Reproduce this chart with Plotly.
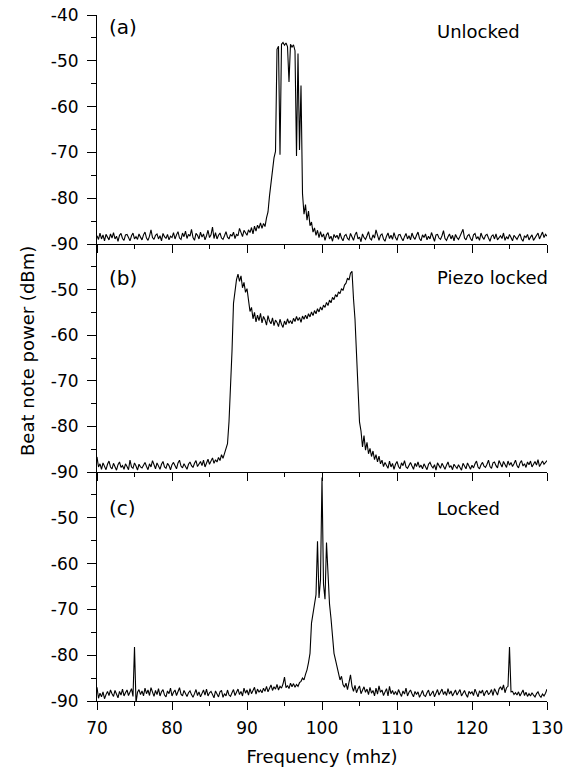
import plotly.graph_objects as go

# frequency grid (MHz), 0.2 MHz steps from 70 to 130
freq = [round(70 + 0.2 * i, 1) for i in range(301)]

unlocked = [
    -88.2, -89.0, -87.6, -88.9, -88.0, -89.3, -87.9, -88.6, -89.1, -87.8,
    -88.7, -87.5, -88.9, -88.3, -89.4, -88.1, -87.7, -88.8, -89.2, -88.0,
    -87.9, -88.6, -89.3, -88.2, -87.6, -88.9, -88.4, -89.0, -87.8, -88.5,
    -89.1, -88.0, -87.4, -88.7, -89.2, -88.3, -86.9, -88.6, -89.0, -88.1,
    -87.8, -88.9, -88.2, -89.3, -87.7, -88.4, -88.8, -87.9, -89.1, -88.3,
    -88.6, -87.5, -88.9, -88.0, -87.3, -88.7, -89.0, -87.6, -88.4, -87.2,
    -88.8, -87.9, -88.3, -86.8, -88.6, -89.2, -87.7, -88.1, -88.9, -87.4,
    -88.5, -87.8, -89.1, -88.2, -87.0, -88.6, -88.0, -86.3, -88.8, -87.5,
    -88.9, -88.1, -87.6, -88.7, -89.0, -88.2, -87.3, -88.5, -88.9, -87.9,
    -88.3, -87.4, -88.8, -87.9, -88.2, -86.6, -87.8, -88.4, -87.0, -87.6,
    -88.1, -86.9, -87.5, -86.4, -87.8, -86.1, -87.2, -85.9, -86.6, -85.4,
    -86.6, -85.5, -86.2, -84.3, -83.0, -79.5, -76.5, -73.0, -71.2, -69.8,
    -47.5, -46.8, -70.5, -46.4, -46.0, -46.6, -46.1, -46.9, -54.6, -46.4,
    -47.0, -46.5, -47.8, -70.8, -48.4, -69.5, -55.4, -79.0, -83.5, -81.4,
    -84.8, -82.8, -86.0, -85.2, -87.4, -86.5, -88.1, -87.0, -88.6, -87.3,
    -88.5, -87.8, -89.2, -88.0, -87.5, -88.9, -88.3, -89.4, -87.9, -88.6,
    -88.1, -89.0, -87.6, -88.7, -89.3, -88.2, -87.9, -88.8, -89.1, -87.7,
    -88.4, -89.2, -88.0, -87.4, -88.9, -88.5, -89.5, -87.8, -88.6, -89.0,
    -88.2, -87.3, -88.8, -89.1, -88.0, -88.7, -86.9, -88.4, -89.2, -88.1,
    -87.8, -88.9, -89.4, -88.3, -87.6, -88.8, -88.1, -89.0, -87.5, -88.6,
    -89.2, -88.0, -87.9, -88.7, -89.3, -88.4, -87.7, -88.9, -88.2, -89.1,
    -87.6, -88.5, -89.0, -88.1, -87.4, -88.8, -89.3, -88.0, -88.6, -87.8,
    -89.1, -88.3, -88.9, -87.5, -88.6, -89.4, -88.0, -87.9, -88.7, -89.0,
    -88.2, -87.1, -88.8, -89.2, -88.4, -87.8, -88.9, -88.1, -89.3, -87.9,
    -88.6, -89.0, -88.3, -87.5, -86.8, -88.7, -89.1, -88.2, -87.9, -88.8,
    -89.3, -88.0, -87.7, -88.9, -88.4, -89.2, -87.6, -88.5, -89.0, -88.1,
    -87.9, -88.7, -89.4, -88.3, -88.0, -88.9, -87.8, -89.1, -88.5, -88.2,
    -88.8, -87.6, -89.2, -88.4, -88.9, -87.9, -88.6, -89.3, -88.1, -88.7,
    -89.0, -88.3, -87.8, -88.9, -89.4, -88.2, -88.6, -87.9, -89.1, -88.5,
    -88.0, -89.2, -88.7, -88.3, -87.6, -88.9, -88.1, -87.4, -88.6, -87.9,
    -88.3,
]

piezo_locked = [
    -86.7, -88.9, -88.2, -89.4, -88.0, -88.8, -89.5, -88.3, -87.6, -88.9,
    -89.3, -88.1, -88.7, -89.6, -88.4, -87.8, -89.0, -88.6, -89.4, -88.2,
    -88.8, -89.5, -87.4, -88.9, -89.2, -88.0, -88.7, -89.6, -88.3, -88.9,
    -89.1, -88.4, -87.9, -88.8, -89.5, -88.2, -88.9, -87.5, -88.6, -89.3,
    -88.0, -88.7, -89.4, -88.3, -87.7, -88.9, -89.2, -88.1, -88.6, -89.5,
    -88.4, -87.9, -88.8, -89.3, -88.0, -87.4, -88.7, -89.1, -88.2, -88.9,
    -89.4, -88.3, -87.8, -88.6, -89.0, -88.1, -87.5, -88.8, -88.2, -87.7,
    -88.6, -87.4, -88.9, -88.0, -87.2, -88.3, -87.6, -86.9, -88.1, -87.3,
    -87.8, -86.8, -87.5, -86.2, -87.0, -85.8, -84.6, -83.8, -79.0, -72.5,
    -63.5, -53.0, -50.0, -47.8, -46.6, -48.2, -47.0, -49.6, -48.4, -50.6,
    -49.8, -52.5, -54.8, -53.9, -56.4, -55.0, -57.1, -55.6, -56.8, -55.2,
    -57.3, -55.9, -56.6, -57.8, -55.7, -56.9, -57.5, -56.2, -57.9, -56.7,
    -57.2, -58.1, -56.5, -57.6, -58.3, -56.9, -57.7, -56.4, -57.4, -56.8,
    -57.5, -56.3, -57.0, -55.9, -56.8, -56.1, -57.2, -55.8, -56.5, -55.6,
    -56.4, -55.3, -56.0, -54.9, -55.7, -54.6, -55.3, -54.2, -54.9, -53.8,
    -54.5, -53.4, -53.9, -52.8, -53.5, -52.3, -52.9, -51.7, -52.2, -51.1,
    -51.6, -50.5, -50.9, -49.8, -50.2, -49.0, -48.6, -47.5, -47.9, -46.4,
    -46.0, -52.0, -56.5, -64.0, -72.5, -79.0, -81.0, -84.5, -82.0, -85.2,
    -83.5, -86.0, -84.8, -86.6, -85.4, -87.3, -86.2, -87.8, -86.5, -88.2,
    -87.4, -88.8, -87.9, -88.5, -89.2, -87.6, -88.9, -88.1, -89.4, -88.3,
    -87.7, -88.8, -89.3, -88.0, -88.6, -87.5, -88.9, -89.2, -88.4, -87.9,
    -88.7, -89.4, -88.1, -88.8, -87.8, -89.0, -88.5, -89.3, -88.2, -88.9,
    -89.5, -88.3, -87.9, -88.7, -89.1, -88.4, -89.6, -88.0, -88.8, -89.2,
    -88.1, -88.9, -89.4, -88.5, -87.8, -89.0, -88.6, -89.5, -88.3, -88.8,
    -89.2, -88.4, -88.9, -89.6, -88.1, -88.7, -89.3, -88.0, -88.8, -89.4,
    -88.5, -89.1, -88.2, -87.6, -88.9, -89.3, -88.4, -87.9, -88.7, -89.0,
    -88.3, -87.4, -88.8, -89.2, -88.0, -87.8, -88.6, -89.1, -87.5, -88.4,
    -88.9, -87.7, -88.3, -89.0, -87.6, -88.5, -87.9, -88.8, -88.2, -87.4,
    -88.6, -89.1, -88.0, -87.5, -88.7, -88.2, -89.0, -87.8, -88.4, -87.6,
    -88.9, -88.1, -87.7, -88.5, -87.3, -88.8, -88.0, -87.6, -88.3, -87.9,
    -87.5,
]

locked = [
    -87.0, -89.4, -88.3, -89.1, -88.0, -89.5, -88.6, -87.9, -88.8, -87.6,
    -88.4, -89.0, -87.7, -88.5, -89.3, -87.9, -88.7, -87.4, -88.9, -88.2,
    -87.6, -88.8, -88.1, -87.3, -89.0, -78.2, -90.4, -88.1, -87.5, -88.6,
    -87.8, -88.9, -87.2, -88.4, -87.6, -88.8, -87.1, -88.3, -89.0, -87.7,
    -88.6, -87.3, -88.9, -88.0, -87.5, -88.7, -89.1, -87.8, -88.4, -87.2,
    -88.9, -88.1, -87.6, -88.8, -87.9, -87.1, -88.5, -88.9, -87.7, -88.3,
    -89.0, -88.2, -87.8, -88.6, -89.2, -88.4, -87.5, -88.8, -88.0, -89.1,
    -88.3, -87.6, -88.7, -87.4, -88.9, -88.2, -87.9, -88.6, -89.3, -87.8,
    -88.5, -89.1, -88.0, -87.7, -89.2, -88.4, -88.9, -87.6, -88.7, -89.0,
    -88.2, -87.5, -88.8, -88.1, -87.4, -88.6, -87.9, -88.9, -87.2, -88.3,
    -87.6, -88.7, -87.3, -88.4, -87.8, -87.0, -88.5, -87.4, -88.1, -87.6,
    -88.2, -87.2, -87.9, -86.8, -88.0, -87.3, -86.5, -87.7, -86.9, -87.4,
    -86.4, -87.6, -86.8, -87.2, -86.3, -84.8, -87.1, -86.6, -87.3, -86.1,
    -86.9, -86.2, -87.0, -86.4, -86.8, -86.0, -85.7, -85.0, -85.4, -84.2,
    -83.2, -81.6, -79.6, -73.0, -70.8, -69.0, -66.8, -55.1, -67.5, -63.5,
    -41.2, -64.5, -67.8, -55.4, -64.0, -68.8, -72.0, -76.8, -79.6, -81.0,
    -82.5, -83.8, -85.4, -84.6, -86.4, -87.0, -86.1, -87.5, -86.0, -84.3,
    -86.8, -87.9, -86.6, -88.2, -87.3, -86.7, -88.4, -87.5, -86.9, -88.1,
    -87.4, -88.6, -87.0, -88.3, -87.7, -88.9, -87.2, -88.5, -86.7, -88.1,
    -87.6, -88.8, -88.2, -87.3, -88.9, -86.8, -88.4, -87.7, -88.6, -87.9,
    -88.7, -87.5, -88.3, -89.0, -87.8, -88.5, -87.2, -88.9, -88.1, -87.6,
    -88.4, -89.1, -87.9, -88.6, -88.0, -89.2, -88.5, -87.7, -88.8, -89.0,
    -88.2, -87.6, -88.9, -88.4, -87.8, -89.1, -88.3, -87.5, -88.7, -88.0,
    -87.4, -88.6, -87.9, -88.8, -87.3, -88.5, -87.8, -88.9, -88.2, -87.6,
    -88.7, -88.1, -87.5, -88.9, -88.3, -87.7, -88.6, -89.2, -87.9, -88.4,
    -88.0, -88.8, -87.4, -88.5, -89.1, -87.8, -88.3, -87.6, -88.9, -88.1,
    -87.7, -88.6, -88.2, -87.5, -88.8, -87.3, -88.0, -88.7, -87.4, -86.9,
    -87.6, -86.5, -88.2, -87.1, -86.8, -78.2, -88.0, -87.9, -88.6, -88.2,
    -88.7, -88.0, -88.9, -88.3, -87.6, -88.8, -88.1, -89.0, -88.4, -88.9,
    -88.2, -88.7, -89.1, -88.4, -88.0, -88.8, -89.2, -88.5, -88.9, -88.3,
    -87.4,
]

panel_labels = ["(a)", "(b)", "(c)"]
state_labels = ["Unlocked", "Piezo locked", "Locked"]
x_ticks = [70, 80, 90, 100, 110, 120, 130]
y_ticks_top = [-90, -80, -70, -60, -50, -40]
y_ticks = [-90, -80, -70, -60, -50]

FONT = "DejaVu Sans"
W, H = 569, 767
# plot area in page pixels: left 97, right 547, top 15, bottom 701
PL, PR, PT, PB = 97, 547, 15, 701
ML, MR, MT, MB = PL, W - PR, PT, H - PB
plot_h = PB - PT
plot_w = PR - PL

# panel pixel bounds (top, bottom)
bounds = [(15, 244), (244, 472), (472, 701)]
def dom(top, bot):
    return [(PB - bot) / plot_h, (PB - top) / plot_h]

def py(page_y):
    return (PB - page_y) / plot_h

def px(page_x):
    return (page_x - PL) / plot_w

fig = go.Figure()
series = [unlocked, piezo_locked, locked]
for k, ys in enumerate(series):
    n = "" if k == 0 else str(k + 1)
    fig.add_trace(go.Scatter(x=freq, y=ys, mode="lines",
                             line=dict(color="black", width=1.1),
                             xaxis="x" + n, yaxis="y" + n,
                             showlegend=False, hoverinfo="skip"))

axis_common = dict(showline=True, linecolor="black", linewidth=1,
                   showgrid=False, zeroline=False, ticks="outside",
                   tickcolor="black", tickwidth=1, mirror=False,
                   ticklabeloverflow="allow", automargin=False)

layout = dict(width=W, height=H, margin=dict(l=ML, r=MR, t=MT, b=MB, pad=0,
                                             autoexpand=False),
              paper_bgcolor="white", plot_bgcolor="white",
              font=dict(family=FONT, size=17, color="black"),
              showlegend=False)

for k in range(3):
    n = "" if k == 0 else str(k + 1)
    top, bot = bounds[k]
    yt = y_ticks_top if k == 0 else y_ticks
    layout["yaxis" + n] = dict(
        axis_common, domain=dom(top, bot), range=[-90, -40],
        tickmode="array", tickvals=yt, ticktext=[str(v) for v in yt],
        ticklen=9, anchor="x" + n, ticklabelstandoff=5,
        minor=dict(ticks="outside", ticklen=5, tickmode="linear",
                   tick0=-90, dtick=5, tickcolor="black", tickwidth=1),
        tickfont=dict(family=FONT, size=17))
    xa = dict(axis_common, range=[70, 130], tickmode="array",
              tickvals=x_ticks, ticklen=8, anchor="y" + n,
              minor=dict(ticks="outside", ticklen=4, tickmode="linear",
                         tick0=70, dtick=5, tickcolor="black", tickwidth=1),
              showticklabels=(k == 2), tickfont=dict(family=FONT, size=17))
    if k == 2:
        xa["ticklabelstandoff"] = 4
        xa["title"] = dict(text="Frequency (mhz)", font=dict(family=FONT, size=18), standoff=12)
    else:
        xa["matches"] = "x3"
    layout["xaxis" + n] = xa

fig.update_layout(**layout)

# y-axis title along the full stack
fig.add_annotation(text="Beat note power (dBm)", xref="paper", yref="paper",
                   x=px(27), y=py(351), xanchor="center", yanchor="middle",
                   textangle=-90, showarrow=False,
                   font=dict(family=FONT, size=18))

label_y = [27, 278, 508]
state_y = [32, 278, 508]
for k in range(3):
    fig.add_annotation(text=panel_labels[k], xref="paper", yref="paper",
                       x=px(107), y=py(label_y[k]),
                       xanchor="left", yanchor="middle", showarrow=False,
                       font=dict(family=FONT, size=20))
    fig.add_annotation(text=state_labels[k], xref="paper", yref="paper",
                       x=px(435), y=py(state_y[k]),
                       xanchor="left", yanchor="middle", showarrow=False,
                       font=dict(family=FONT, size=18))

# remove the default page margin so the figure fills the window exactly
fig.write_html("out.html",
               config={"displayModeBar": False, "staticPlot": True},
               post_script="document.body.style.margin='0px';document.body.style.overflow='hidden';")
